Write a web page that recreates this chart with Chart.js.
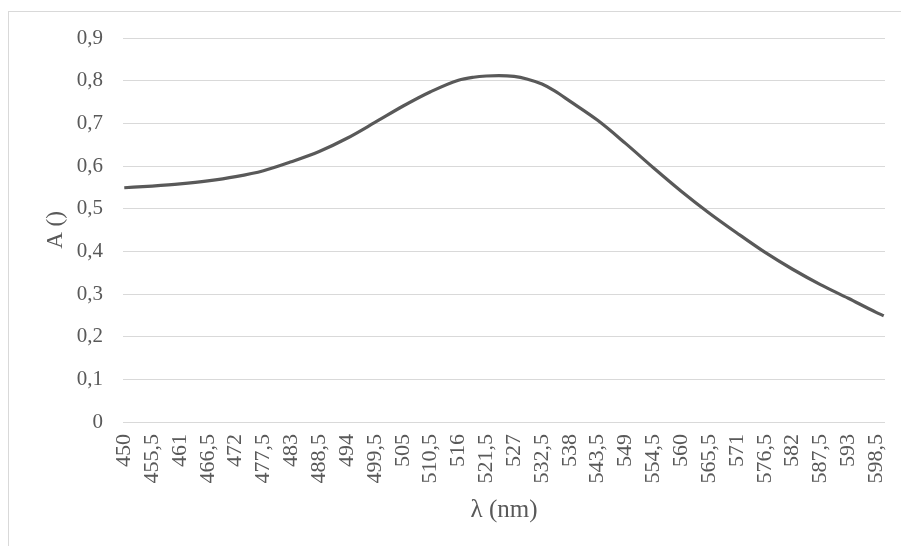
<!DOCTYPE html>
<html>
<head>
<meta charset="utf-8">
<script src="https://cdn.jsdelivr.net/npm/chart.js@4.4.1/dist/chart.umd.min.js"></script>
<style>
  html, body { margin: 0; padding: 0; background: #fff; overflow: hidden; }
  #frame { position: absolute; left: 8px; top: 11px; width: 980px; height: 640px; border: 1px solid #d9d9d9; box-sizing: border-box; }
  #wrap { position: absolute; left: 0; top: 0; width: 901px; height: 546px; }
</style>
</head>
<body>
<div id="frame"></div>
<div id="wrap"><canvas id="c" width="901" height="546"></canvas></div>
<script>
// Wavelengths (nm) and absorbance
const wavelengths = [450, 455.5, 461, 466.5, 472, 477.5, 483, 488.5, 494, 499.5, 505, 510.5, 516, 519, 521.5, 524, 527, 529.5, 532.5, 535, 538, 543.5, 549, 554.5, 560, 565.5, 571, 576.5, 582, 587.5, 593, 598.5, 600];
const absorbance  = [0.549, 0.553, 0.558, 0.565, 0.575, 0.589, 0.610, 0.634, 0.665, 0.702, 0.740, 0.774, 0.801, 0.808, 0.811, 0.812, 0.810, 0.804, 0.792, 0.776, 0.752, 0.707, 0.653, 0.596, 0.541, 0.490, 0.443, 0.398, 0.358, 0.322, 0.290, 0.257, 0.249];
const xTickValues = [450, 455.5, 461, 466.5, 472, 477.5, 483, 488.5, 494, 499.5, 505, 510.5, 516, 521.5, 527, 532.5, 538, 543.5, 549, 554.5, 560, 565.5, 571, 576.5, 582, 587.5, 593, 598.5];
const xTitle = 'λ (nm)';
const yTitle = 'A ()';

const points = wavelengths.map((w, i) => ({ x: w, y: absorbance[i] }));
const textColor = '#595959';
const fontFamily = '"Liberation Serif", "Times New Roman", serif';

new Chart(document.getElementById('c'), {
  type: 'line',
  data: {
    datasets: [{
      data: points,
      borderColor: '#595959',
      borderWidth: 3.2,
      pointRadius: 0,
      cubicInterpolationMode: 'monotone',
      fill: false
    }]
  },
  options: {
    responsive: false,
    animation: false,
    events: [],
    layout: { padding: { left: 42, top: 38, right: 16, bottom: 21 } },
    plugins: { legend: { display: false }, tooltip: { enabled: false } },
    scales: {
      x: {
        type: 'linear',
        min: 449.75,
        max: 600.25,
        afterBuildTicks: (axis) => { axis.ticks = xTickValues.map(v => ({ value: v })); },
        afterFit: (axis) => { axis.height = 103; axis.paddingRight = 0; axis.paddingLeft = 0; },
        grid: { display: false, drawTicks: false },
        border: { display: false },
        ticks: {
          autoSkip: false,
          minRotation: 90,
          maxRotation: 90,
          padding: 12,
          color: textColor,
          font: { family: fontFamily, size: 22 },
          callback: (v) => String(v).replace('.', ',')
        },
        title: {
          display: true,
          text: xTitle,
          color: textColor,
          font: { family: fontFamily, size: 25 },
          padding: { top: 0, bottom: 0 }
        }
      },
      y: {
        min: 0,
        max: 0.9,
        afterFit: (axis) => { axis.width = 81; },
        grid: { color: '#d9d9d9', lineWidth: 1, drawTicks: false },
        border: { display: false },
        ticks: {
          stepSize: 0.1,
          padding: 20,
          color: textColor,
          font: { family: fontFamily, size: 21 },
          callback: (v) => v === 0 ? '0' : Number(v).toFixed(1).replace('.', ',')
        },
        title: {
          display: true,
          text: yTitle,
          color: textColor,
          font: { family: fontFamily, size: 23 },
          padding: { top: 0, bottom: 0 }
        }
      }
    }
  }
});
</script>
</body>
</html>
